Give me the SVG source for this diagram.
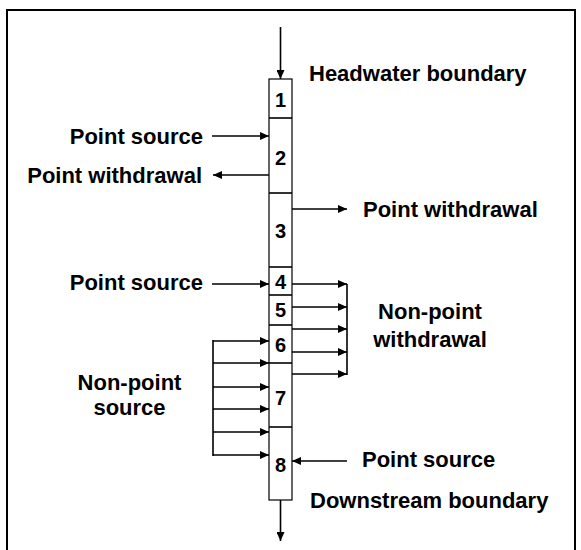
<svg xmlns="http://www.w3.org/2000/svg" width="581" height="550" viewBox="0 0 581 550">
<defs>
<marker id="ah" markerUnits="userSpaceOnUse" markerWidth="10" markerHeight="8" refX="9" refY="4" orient="auto">
<path d="M0,0 L9,4 L0,8 Z" fill="#000"/>
</marker>
<style>
.t{font-family:"Liberation Sans",Arial,sans-serif;font-weight:bold;font-size:22px;fill:#000}
.n{font-family:"Liberation Sans",Arial,sans-serif;font-weight:bold;font-size:20px;fill:#000;text-anchor:middle}
.c{stroke:#000;stroke-width:1.6;fill:none}
.a{stroke:#000;stroke-width:1.6;fill:none;marker-end:url(#ah)}
.box{fill:#fff;stroke:#000;stroke-width:1.2}
</style>
</defs>
<rect width="581" height="550" fill="#fff"/>
<rect x="7" y="10" width="568" height="560" fill="none" stroke="#000" stroke-width="2"/>
<g id="column">
<rect class="box" x="269" y="79" width="23" height="421"/>
<g id="seg1"><text class="n" x="280.5" y="107">1</text></g>
<line class="c" x1="269" y1="118" x2="292" y2="118" stroke-width="1.2"/>
<g id="seg2"><text class="n" x="280.5" y="165">2</text></g>
<line class="c" x1="269" y1="193" x2="292" y2="193" stroke-width="1.2"/>
<g id="seg3"><text class="n" x="280.5" y="238">3</text></g>
<line class="c" x1="269" y1="267" x2="292" y2="267" stroke-width="1.2"/>
<g id="seg4"><text class="n" x="280.5" y="289">4</text></g>
<line class="c" x1="269" y1="295" x2="292" y2="295" stroke-width="1.2"/>
<g id="seg5"><text class="n" x="280.5" y="317">5</text></g>
<line class="c" x1="269" y1="325" x2="292" y2="325" stroke-width="1.2"/>
<g id="seg6"><text class="n" x="280.5" y="352">6</text></g>
<line class="c" x1="269" y1="363" x2="292" y2="363" stroke-width="1.2"/>
<g id="seg7"><text class="n" x="280.5" y="405">7</text></g>
<line class="c" x1="269" y1="427" x2="292" y2="427" stroke-width="1.2"/>
<g id="seg8"><text class="n" x="280.5" y="472">8</text></g>
</g>
<g id="connectors">
<line class="a" x1="280.5" y1="27" x2="280.5" y2="79"/>
<line class="a" x1="280.5" y1="500" x2="280.5" y2="541"/>
<line class="a" x1="212" y1="136" x2="269" y2="136"/>
<line class="a" x1="269" y1="175" x2="213" y2="175"/>
<line class="a" x1="292" y1="209" x2="347" y2="209"/>
<line class="a" x1="212" y1="284" x2="269" y2="284"/>
<line class="a" x1="347" y1="461" x2="292" y2="461"/>
<line class="c" x1="347" y1="284" x2="347" y2="375"/>
<line class="a" x1="292" y1="284" x2="347" y2="284"/>
<line class="a" x1="292" y1="307" x2="347" y2="307"/>
<line class="a" x1="292" y1="329" x2="347" y2="329"/>
<line class="a" x1="292" y1="352" x2="347" y2="352"/>
<line class="a" x1="292" y1="374" x2="347" y2="374"/>
<line class="c" x1="213" y1="340" x2="213" y2="456"/>
<line class="a" x1="213" y1="341" x2="269" y2="341"/>
<line class="a" x1="213" y1="363" x2="269" y2="363"/>
<line class="a" x1="213" y1="387" x2="269" y2="387"/>
<line class="a" x1="213" y1="409" x2="269" y2="409"/>
<line class="a" x1="213" y1="432" x2="269" y2="432"/>
<line class="a" x1="213" y1="455" x2="269" y2="455"/>
</g>
<g id="labels">
<text class="t" x="309" y="81">Headwater boundary</text>
<text class="t" x="203" y="144" text-anchor="end">Point source</text>
<text class="t" x="202" y="183" text-anchor="end">Point withdrawal</text>
<text class="t" x="363" y="217">Point withdrawal</text>
<text class="t" x="203" y="290" text-anchor="end">Point source</text>
<text class="t" x="430" y="319" text-anchor="middle">Non-point</text>
<text class="t" x="430" y="347" text-anchor="middle">withdrawal</text>
<text class="t" x="129.5" y="390" text-anchor="middle">Non-point</text>
<text class="t" x="129.5" y="415" text-anchor="middle">source</text>
<text class="t" x="362" y="467">Point source</text>
<text class="t" x="310" y="508">Downstream boundary</text>
</g>
</svg>
